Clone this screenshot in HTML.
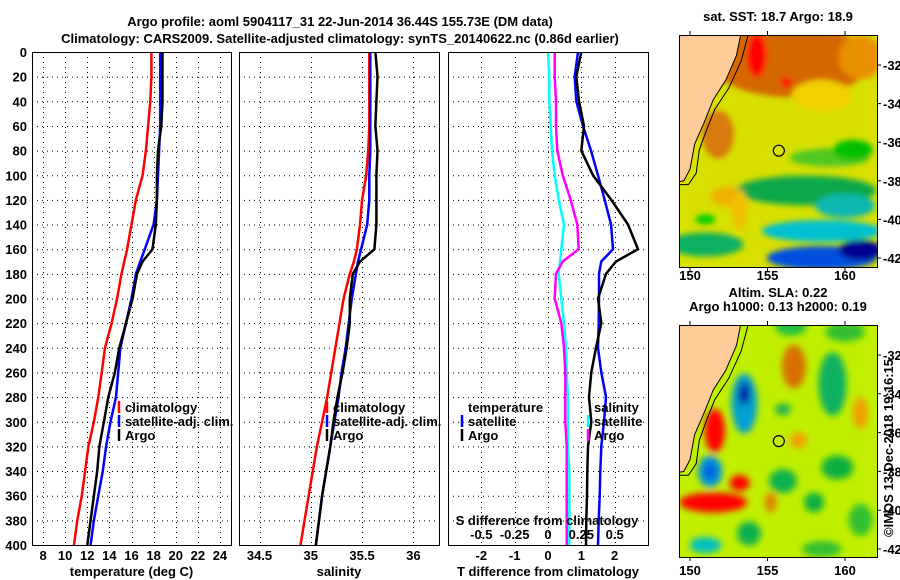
<!DOCTYPE html>
<html><head><meta charset="utf-8"><style>
html,body{margin:0;padding:0;background:#fff}
svg{display:block}
text{font-family:"Liberation Sans",sans-serif;font-weight:bold;font-size:13px;fill:#000}
</style></head><body>
<svg id="fig" width="900" height="580" viewBox="0 0 900 580">
<defs>
<filter id="blur1" x="-20%" y="-20%" width="140%" height="140%"><feGaussianBlur stdDeviation="3"/></filter>
<filter id="blur2" x="-20%" y="-20%" width="140%" height="140%"><feGaussianBlur stdDeviation="3.5"/></filter>
<clipPath id="clipM1"><rect x="679" y="35" width="198" height="232"/></clipPath>
<clipPath id="clipM2"><rect x="679" y="325" width="198" height="232"/></clipPath>
</defs>
<text x="340" y="26" text-anchor="middle" font-size="14">Argo profile: aoml 5904117_31 22-Jun-2014 36.44S 155.73E (DM data)</text>
<text x="340" y="43" text-anchor="middle" font-size="14">Climatology: CARS2009. Satellite-adjusted climatology: synTS_20140622.nc (0.86d earlier)</text>
<g id="panels"></g>
<g id="maps"></g>
<text transform="translate(893,448) rotate(-90)" text-anchor="middle" font-weight="normal" font-size="13">©IMOS 13-Dec-2018 19:16:15</text>
</svg>
<script>
const depths = [0,20,40,60,80,100,120,140,160,170,180,200,220,240,260,280,300,320,340,360,380,400];
const tempClim = [17.8,17.8,17.7,17.5,17.3,17.0,16.4,16.0,15.6,15.35,15.1,14.7,14.2,13.6,13.3,13.0,12.6,12.1,11.8,11.5,11.1,10.8];
const tempSat  = [18.6,18.6,18.6,18.6,18.5,18.4,18.3,18.0,17.2,16.8,16.4,16.0,15.5,15.0,14.8,14.6,14.1,13.7,13.4,13.0,12.6,12.3];
const tempArgo = [18.8,18.8,18.8,18.7,18.4,18.3,18.3,18.2,17.9,17.0,16.5,16.1,15.5,14.9,14.5,13.9,13.5,13.1,12.9,12.6,12.3,12.0];
const salClim = [35.57,35.57,35.57,35.57,35.56,35.54,35.50,35.48,35.45,35.42,35.38,35.32,35.28,35.24,35.20,35.16,35.11,35.06,35.02,34.98,34.94,34.90];
const salSat  = [35.58,35.58,35.58,35.58,35.58,35.57,35.57,35.55,35.49,35.46,35.44,35.40,35.37,35.34,35.30,35.27,35.23,35.19,35.15,35.11,35.08,35.05];
const salArgo = [35.63,35.65,35.64,35.63,35.65,35.64,35.64,35.64,35.62,35.48,35.41,35.38,35.38,35.35,35.31,35.26,35.22,35.19,35.15,35.11,35.08,35.05];
const tDiffSat  = [0.9,0.8,0.85,1.05,1.29,1.5,1.7,1.89,1.95,1.6,1.53,1.53,1.52,1.5,1.6,1.74,1.68,1.6,1.57,1.55,1.52,1.5];
const tDiffArgo = [1.0,0.85,0.93,1.08,1.0,1.35,1.9,2.4,2.7,2.04,1.74,1.5,1.6,1.44,1.3,1.23,1.3,1.2,1.18,1.17,1.15,1.14];
const sDiffSat  = [0.0,0.01,0.01,0.02,0.03,0.05,0.08,0.12,0.10,0.09,0.08,0.10,0.12,0.135,0.14,0.15,0.15,0.15,0.16,0.16,0.16,0.16];
const sDiffArgo = [0.05,0.05,0.06,0.06,0.07,0.11,0.17,0.22,0.23,0.11,0.06,0.05,0.10,0.12,0.13,0.13,0.13,0.14,0.14,0.14,0.14,0.14];
const depthTicks = [0,20,40,60,80,100,120,140,160,180,200,220,240,260,280,300,320,340,360,380,400];
const tempTicks = [8,10,12,14,16,18,20,22,24];
const salTicks = [34.5,35,35.5,36];
const salTickLabels = ["34.5","35","35.5","36"];
const tDiffTicks = [-2,-1,0,1,2];
const sDiffTicks = [-0.5,-0.25,0,0.25,0.5];
const sDiffTickLabels = ["-0.5","-0.25","0","0.25","0.5"];
const mapLonTicks = [150,155,160];
const mapLatTicks = [-32,-34,-36,-38,-40,-42];
const argoLon = 155.73, argoLat = -36.44;

const NS='http://www.w3.org/2000/svg';
function mk(tag, attrs, parent){const e=document.createElementNS(NS,tag);for(const k in attrs)e.setAttribute(k,attrs[k]);if(parent)parent.appendChild(e);return e;}
const T0=52, B0=545;
const yD = d => T0 + d/400*(B0-T0);
function lin(d0,d1,r0,r1){return v=>r0+(v-d0)/(d1-d0)*(r1-r0);}
const panels=document.getElementById('panels');

function panel(name,x0,x1,xs,ticks,labels,showY,title){
  const g=mk('g',{},panels);
  
  
  const grid=mk('g',{stroke:'#000','stroke-width':1,'stroke-dasharray':'1,4'},g);
  
  
  depthTicks.forEach(d=>{if(d>0&&d<400)mk('line',{x1:x0,x2:x1,y1:yD(d)+0.5,y2:yD(d)+0.5},grid);});
  ticks.forEach(t=>{const x=Math.round(xs(t))+0.5;mk('line',{x1:x,x2:x,y1:T0,y2:B0},grid);});
  ticks.forEach((t,i)=>{const x=xs(t);
    const tl=mk('text',{x:x,y:560,'text-anchor':'middle'},g);tl.textContent=labels[i];
    
    });
  if(showY){depthTicks.forEach(d=>{const tl=mk('text',{x:27,y:yD(d)+5,'text-anchor':'end'},g);tl.textContent=d;
    
    });}
  const tt=mk('text',{x:(x0+x1)/2,y:576,'text-anchor':'middle'},g);tt.textContent=title;
  
  
  return g;
}
function line(g,name,xs,vals,color){
  const pts=vals.map((v,i)=>xs(v).toFixed(1)+','+yD(depths[i]).toFixed(1)).join(' ');
  const p=mk('polyline',{points:pts,fill:'none',stroke:color,'stroke-width':2.5},g);
  
  
}
function frame(g,x0,x1){const r=mk('rect',{x:x0+0.5,y:T0+0.5,width:x1-x0,height:B0-T0,fill:'none',stroke:'#000','stroke-width':1},g);
  
  }
function legend(g,x,y,items){items.forEach((it,i)=>{
  const yy=y+i*14;
  if(it[1]){const m=mk('line',{x1:x,x2:x,y1:yy-6,y2:yy+6,stroke:it[1],'stroke-width':2.5},g);
    
    }
  const t=mk('text',{x:x+6,y:yy+5,'font-size':12.5},g);t.textContent=it[0];
  
  });}

const xT=lin(7,25,32,231);
const g1=panel('temperature-panel',32,231,xT,tempTicks,tempTicks.map(String),true,'temperature (deg C)');
line(g1,'temp-climatology-line',xT,tempClim,'#ff0000');
line(g1,'temp-satellite-line',xT,tempSat,'#0000ff');
line(g1,'temp-argo-line',xT,tempArgo,'#000');
legend(g1,119,407,[['climatology','#ff0000'],['satellite-adj. clim.','#0000ff'],['Argo','#000']]);
frame(g1,32,231);
const xS=lin(34.3,36.25,239,439);
const g2=panel('salinity-panel',239,439,xS,salTicks,salTickLabels,false,'salinity');
line(g2,'sal-climatology-line',xS,salClim,'#ff0000');
line(g2,'sal-satellite-line',xS,salSat,'#0000ff');
line(g2,'sal-argo-line',xS,salArgo,'#000');
legend(g2,327,407,[['climatology','#ff0000'],['satellite-adj. clim.','#0000ff'],['Argo','#000']]);
frame(g2,239,439);
const xTD=lin(-3,3,448,648), xSD=lin(-0.75,0.75,448,648);
const g3=panel('difference-panel',448,648,xTD,tDiffTicks,tDiffTicks.map(String),false,'T difference from climatology');
line(g3,'sdiff-satellite-line',xSD,sDiffSat,'#00ffff');
line(g3,'sdiff-argo-line',xSD,sDiffArgo,'#ff00ff');
line(g3,'tdiff-satellite-line',xTD,tDiffSat,'#0000ff');
line(g3,'tdiff-argo-line',xTD,tDiffArgo,'#000');
legend(g3,462,407,[['temperature',null],['satellite','#0000ff'],['Argo','#000']]);
legend(g3,588,407,[['salinity',null],['satellite','#00ffff'],['Argo','#ff00ff']]);
const sdt=mk('text',{x:547,y:525,'text-anchor':'middle'},g3);sdt.textContent='S difference from climatology';


sDiffTicks.forEach((t,i)=>{const tl=mk('text',{x:xSD(t),y:539,'text-anchor':'middle'},g3);tl.textContent=sDiffTickLabels[i];
  
  });
frame(g3,448,648);

const maps=document.getElementById('maps');
function map(name,top,bot,lat32,lat42,title1,title2,bg,blobs,labY){
  const g=mk('g',{},maps);
  
  
  const lx=lin(150,160,690,845), ly=lin(-32,-42,lat32,lat42);
  const c=mk('g',{'clip-path':'url(#clip'+(name==='sst-map'?'M1':'M2')+')'},g);
  mk('rect',{x:679,y:top,width:198,height:bot-top,fill:bg},c);
  const bl=mk('g',{filter:name==='sst-map'?'url(#blur1)':'url(#blur2)'},c);
  blobs.forEach(b=>mk('ellipse',{cx:lx(b[0]),cy:ly(b[1]),rx:b[2],ry:b[3],fill:b[4]},bl));
  const land=[[149.0,-30.3],[153.3,-30.3],[153.0,-31.5],[152.3,-32.8],[151.5,-33.8],[150.9,-35.0],[150.3,-36.1],[150.0,-37.4],[149.6,-38.0],[149.0,-38.1]];
  const lp=mk('polygon',{points:land.map(p=>lx(p[0])+','+ly(p[1])).join(' '),fill:'#ffcc99',stroke:'#000','stroke-width':1},c);
  
  
  const iso=[[153.8,-30.3],[153.3,-31.8],[152.5,-33.2],[151.6,-34.3],[151.1,-35.3],[150.6,-36.4],[150.4,-37.6],[149.9,-38.2],[149.0,-38.2]];
  mk('polyline',{points:iso.map(p=>lx(p[0])+','+ly(p[1])).join(' '),fill:'none',stroke:'#000','stroke-width':1},c);
  const ci=mk('circle',{cx:lx(argoLon),cy:ly(argoLat),r:5.5,fill:'none',stroke:'#000','stroke-width':1.2},g);
  
  
  mk('rect',{x:679.5,y:top+0.5,width:198,height:bot-top,fill:'none',stroke:'#000'},g);
  mapLonTicks.forEach(t=>{const x=lx(t);mk('line',{x1:x,x2:x,y1:top-4,y2:top,stroke:'#000'},g);mk('line',{x1:x,x2:x,y1:bot,y2:bot+4,stroke:'#000'},g);
    const tl=mk('text',{x:x,y:labY,'text-anchor':'middle'},g);tl.textContent=t;
    
    });
  mapLatTicks.forEach(t=>{const y=ly(t);mk('line',{x1:877,x2:881,y1:y,y2:y,stroke:'#000'},g);
    const tl=mk('text',{x:883,y:y+5},g);tl.textContent=t;
    
    });
  const t1=mk('text',{x:778,y:top-14-(title2?14:0),'text-anchor':'middle'},g);t1.textContent=title1;
  
  
  if(title2){const t2=mk('text',{x:778,y:top-14,'text-anchor':'middle'},g);t2.textContent=title2;
    
    }
}
map('sst-map',35,267,65,258,'sat. SST: 18.7 Argo: 18.9',null,'#d8e000',[
 [156.5,-31.8,80,36,'#d46800'],[154.3,-31.5,10,22,'#ff0000'],[156.2,-32.9,6,5,'#ff0000'],[161,-31.6,22,22,'#e89000'],
 [158.5,-33.6,30,16,'#f0d000'],[151.8,-35.6,16,24,'#d87a10'],[152.5,-38.8,18,10,'#f0b000'],
 [159,-36.8,40,9,'#50c820'],[160.5,-36.4,20,10,'#00c000'],
 [157.5,-38.5,70,15,'#10a848'],[153.2,-39.5,8,20,'#f0c000'],[160,-39.3,30,12,'#10b8b0'],
 [158.5,-40.6,60,11,'#00c0d0'],[158.5,-42,55,12,'#0050e0'],[161,-41.6,22,10,'#000090'],
 [151,-41.3,38,12,'#10b060'],[151,-40.0,10,5,'#00d000']
],280);
map('sla-map',325,557,355,549,'Altim. SLA: 0.22','Argo h1000: 0.13 h2000: 0.19','#c0f000',[
 [156.5,-30.5,16,10,'#20c040'],[160,-30.8,20,10,'#30c030'],
 [156.7,-32.6,12,22,'#d87000'],[159.2,-33.5,14,32,'#10b060'],[153.5,-34.5,13,30,'#00a0d0'],[153.5,-34,6,11,'#0020a0'],
 [151.6,-35.9,10,22,'#ff0000'],[151.3,-38,12,16,'#0090e0'],[151.3,-38,5,7,'#0050e0'],[151.5,-39.6,34,10,'#ff0000'],[153.2,-38.6,10,8,'#ff0000'],
 [156,-38.5,14,12,'#10b050'],[157,-36.4,9,8,'#f0a000'],[161,-35,8,16,'#f0a000'],[159.5,-37.8,16,12,'#10b040'],[158,-39.6,10,10,'#10b040'],
 [153.8,-41.2,12,12,'#10b050'],[151,-41.8,16,8,'#00c0c0'],[161,-40.5,12,16,'#30c030'],[156,-34.8,8,6,'#20b050'],
 [158.5,-42,20,8,'#30c030'],[155.2,-39.6,6,10,'#e08000']
],575);
</script>
</body></html>
